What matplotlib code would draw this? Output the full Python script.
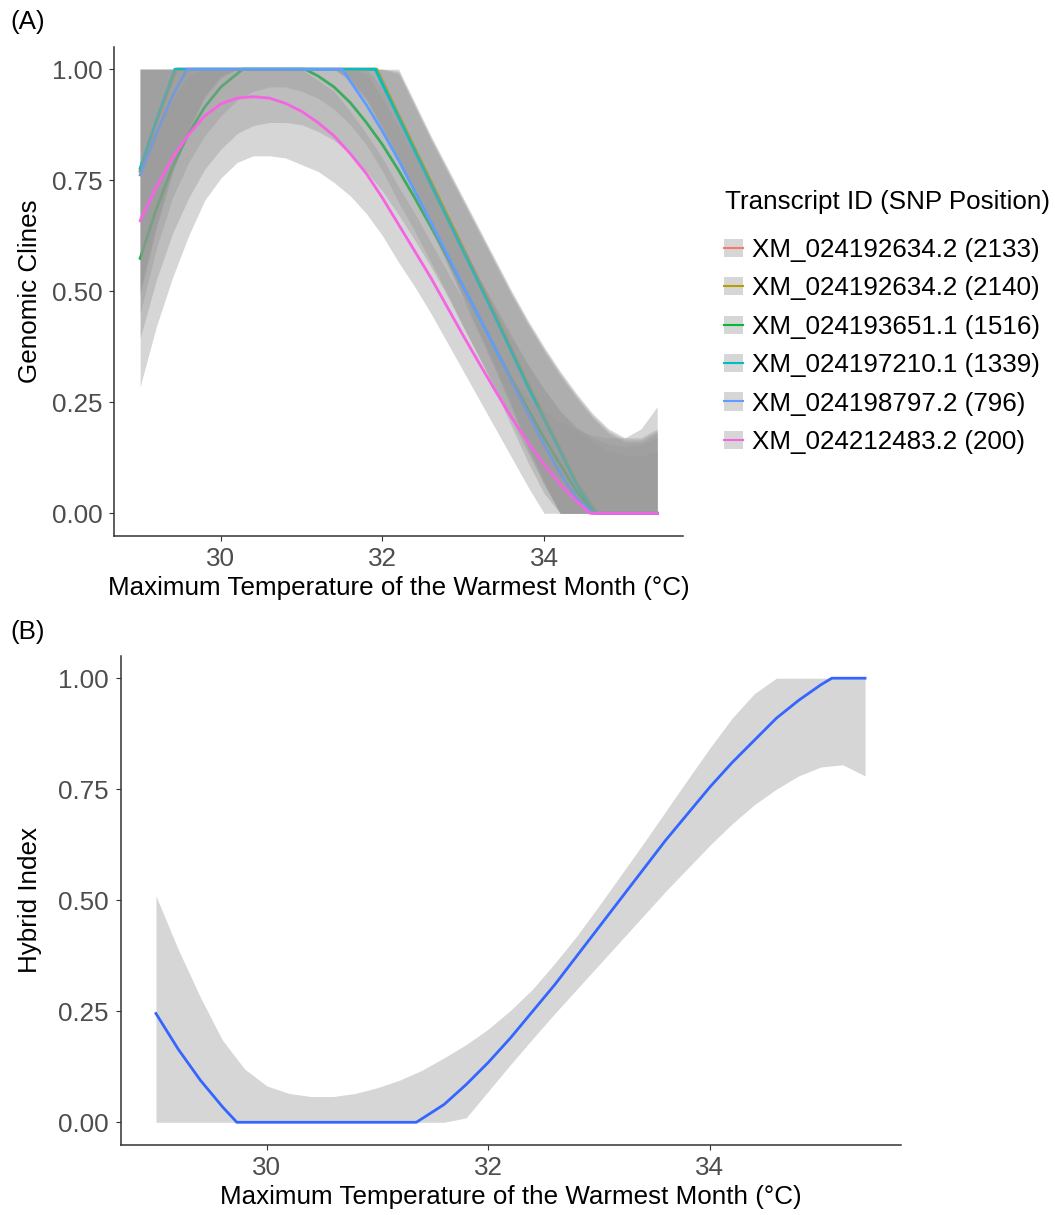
import matplotlib
matplotlib.use("Agg")
import matplotlib.pyplot as plt
from matplotlib.patches import Patch
from matplotlib.lines import Line2D
from matplotlib.legend_handler import HandlerTuple

plt.rcParams['font.family'] = ['Liberation Sans', 'DejaVu Sans']

FS = 18.7
TICK_COLOR = '#4D4D4D'
AXIS_COLOR = '#333333'
RIBBON = '#999999'

# ---------------- Panel A: genomic clines per SNP ----------------
snp_labels = ['XM_024192634.2 (2133)', 'XM_024192634.2 (2140)',
              'XM_024193651.1 (1516)', 'XM_024197210.1 (1339)',
              'XM_024198797.2 (796)', 'XM_024212483.2 (200)']
snp_colors = ['#F8766D', '#B79F00', '#00BA38', '#00BFC4', '#619CFF', '#F564E3']

# temperatures at which the confidence ribbons are given (both panels)
ribbon_temp = [29.0, 29.2, 29.4, 29.6, 29.8, 30.0, 30.2, 30.4, 30.6, 30.8, 31.0,
               31.2, 31.4, 31.6, 31.8, 32.0, 32.2, 32.4, 32.6, 32.8, 33.0, 33.2,
               33.4, 33.6, 33.8, 34.0, 34.2, 34.4, 34.6, 34.8, 35.0, 35.2, 35.4]

# SNP 2133
c2133_x = [29.0, 29.2, 29.45, 31.92, 32.2, 32.6, 33.0, 33.4, 33.8, 34.2, 34.4, 34.65, 35.4]
c2133_y = [0.772, 0.882, 1.0, 1.0, 0.895, 0.745, 0.595, 0.445, 0.29, 0.145, 0.07, 0.0, 0.0]
c2133_lo = [0.49, 0.64, 0.765, 0.86, 0.935, 0.98, 1, 1, 1, 1, 1, 1, 1, 0.975, 0.93,
            0.865, 0.795, 0.72, 0.645, 0.565, 0.485, 0.405, 0.325, 0.24, 0.15, 0.07,
            0, 0, 0, 0, 0, 0, 0]
c2133_hi = [1, 1, 1, 1, 1, 1, 1, 1, 1, 1, 1, 1, 1, 1, 1, 1, 0.995, 0.92, 0.845,
            0.775, 0.705, 0.635, 0.565, 0.495, 0.43, 0.37, 0.315, 0.265, 0.22, 0.185,
            0.165, 0.165, 0.185]

# SNP 2140
c2140_x = [29.0, 29.2, 29.45, 31.93, 32.2, 32.6, 33.0, 33.4, 33.8, 34.2, 34.4, 34.66, 35.4]
c2140_y = [0.770, 0.88, 1.0, 1.0, 0.897, 0.747, 0.597, 0.447, 0.292, 0.147, 0.072, 0.0, 0.0]
c2140_lo = [0.50, 0.645, 0.77, 0.865, 0.94, 0.985, 1, 1, 1, 1, 1, 1, 1, 0.98, 0.935,
            0.87, 0.80, 0.725, 0.65, 0.57, 0.49, 0.41, 0.33, 0.245, 0.155, 0.075,
            0, 0, 0, 0, 0, 0, 0]
c2140_hi = [1, 1, 1, 1, 1, 1, 1, 1, 1, 1, 1, 1, 1, 1, 1, 1, 1, 0.925, 0.85,
            0.78, 0.71, 0.64, 0.57, 0.50, 0.435, 0.375, 0.32, 0.27, 0.225, 0.19,
            0.17, 0.17, 0.19]

# SNP 1516
c1516_x = [29.0, 29.2, 29.4, 29.6, 29.8, 30.0, 30.27, 31.04, 31.2, 31.4, 31.6, 31.8,
           32.0, 32.2, 32.4, 32.6, 32.8, 33.0, 33.2, 33.4, 33.6, 33.8, 34.0, 34.2,
           34.4, 34.62, 35.4]
c1516_y = [0.574, 0.685, 0.78, 0.855, 0.915, 0.96, 1.0, 1.0, 0.985, 0.96, 0.925, 0.88,
           0.83, 0.772, 0.71, 0.645, 0.578, 0.51, 0.44, 0.37, 0.30, 0.235, 0.17, 0.11,
           0.05, 0.0, 0.0]
c1516_lo = [0.394, 0.525, 0.63, 0.71, 0.775, 0.82, 0.855, 0.873, 0.88, 0.88, 0.875,
            0.86, 0.84, 0.81, 0.77, 0.725, 0.672, 0.615, 0.555, 0.49, 0.42, 0.35,
            0.28, 0.21, 0.135, 0.065, 0, 0, 0, 0, 0, 0, 0]
c1516_hi = [0.754, 0.855, 0.93, 0.985, 1, 1, 1, 1, 1, 1, 1, 1, 1, 1, 0.99, 0.935,
            0.872, 0.805, 0.735, 0.665, 0.60, 0.53, 0.46, 0.395, 0.335, 0.28, 0.23,
            0.19, 0.16, 0.14, 0.13, 0.13, 0.14]

# SNP 1339
c1339_x = [29.0, 29.2, 29.43, 31.91, 32.2, 32.6, 33.0, 33.4, 33.8, 34.2, 34.4, 34.63, 35.4]
c1339_y = [0.777, 0.885, 1.0, 1.0, 0.89, 0.74, 0.59, 0.44, 0.285, 0.14, 0.065, 0.0, 0.0]
c1339_lo = [0.51, 0.655, 0.775, 0.87, 0.94, 0.985, 1, 1, 1, 1, 1, 1, 1, 0.975, 0.93,
            0.865, 0.79, 0.715, 0.64, 0.56, 0.48, 0.40, 0.32, 0.235, 0.145, 0.065,
            0, 0, 0, 0, 0, 0, 0]
c1339_hi = [1, 1, 1, 1, 1, 1, 1, 1, 1, 1, 1, 1, 1, 1, 1, 1, 0.99, 0.915, 0.84,
            0.77, 0.70, 0.63, 0.56, 0.49, 0.425, 0.365, 0.31, 0.26, 0.215, 0.18,
            0.16, 0.16, 0.18]

# SNP 796
c796_x = [29.0, 29.2, 29.4, 29.58, 31.5, 31.8, 32.0, 32.2, 32.4, 32.6, 32.8, 33.0,
          33.2, 33.4, 33.6, 33.8, 34.0, 34.2, 34.4, 34.6, 35.4]
c796_y = [0.762, 0.855, 0.94, 1.0, 1.0, 0.92, 0.86, 0.795, 0.725, 0.655, 0.583, 0.51,
          0.44, 0.37, 0.297, 0.225, 0.155, 0.09, 0.035, 0.0, 0.0]
c796_lo = [0.45, 0.595, 0.71, 0.79, 0.85, 0.895, 0.93, 0.95, 0.96, 0.96, 0.95, 0.935,
           0.91, 0.875, 0.83, 0.77, 0.70, 0.635, 0.565, 0.495, 0.42, 0.35, 0.275,
           0.195, 0.115, 0.045, 0, 0, 0, 0, 0, 0, 0]
c796_hi = [1, 1, 1, 1, 1, 1, 1, 1, 1, 1, 1, 1, 1, 1, 1, 0.96, 0.89, 0.815, 0.745,
           0.67, 0.60, 0.53, 0.465, 0.40, 0.335, 0.28, 0.23, 0.195, 0.17, 0.155,
           0.15, 0.155, 0.17]

# SNP 200
c200_x = [29.0, 29.2, 29.4, 29.6, 29.8, 30.0, 30.2, 30.4, 30.6, 30.8, 31.0, 31.2,
          31.4, 31.6, 31.8, 32.0, 32.2, 32.4, 32.6, 32.8, 33.0, 33.2, 33.4, 33.6,
          33.8, 34.0, 34.2, 34.4, 34.57, 35.4]
c200_y = [0.659, 0.735, 0.80, 0.853, 0.895, 0.922, 0.935, 0.938, 0.935, 0.923, 0.905,
          0.88, 0.85, 0.81, 0.765, 0.71, 0.65, 0.59, 0.53, 0.465, 0.40, 0.337, 0.275,
          0.215, 0.16, 0.11, 0.065, 0.028, 0.0, 0.0]
c200_lo = [0.285, 0.42, 0.53, 0.625, 0.705, 0.755, 0.79, 0.805, 0.805, 0.80, 0.785,
           0.77, 0.745, 0.715, 0.675, 0.625, 0.565, 0.51, 0.45, 0.385, 0.32, 0.255,
           0.19, 0.125, 0.06, 0.0, 0, 0, 0, 0, 0, 0, 0]
c200_hi = [1, 1, 1, 1, 1, 1, 1, 1, 1, 1, 1, 0.975, 0.95, 0.905, 0.855, 0.80, 0.735,
           0.675, 0.61, 0.545, 0.48, 0.42, 0.36, 0.305, 0.26, 0.23, 0.205, 0.19,
           0.175, 0.17, 0.17, 0.19, 0.24]

clines = [
    (c2133_x, c2133_y, c2133_lo, c2133_hi),
    (c2140_x, c2140_y, c2140_lo, c2140_hi),
    (c1516_x, c1516_y, c1516_lo, c1516_hi),
    (c1339_x, c1339_y, c1339_lo, c1339_hi),
    (c796_x, c796_y, c796_lo, c796_hi),
    (c200_x, c200_y, c200_lo, c200_hi),
]

# ---------------- Panel B: hybrid index ----------------
hyb_x = [29.0, 29.2, 29.4, 29.6, 29.73, 31.35, 31.6, 31.8, 32.0, 32.2, 32.4, 32.6, 32.8,
         33.0, 33.2, 33.4, 33.6, 33.8, 34.0, 34.2, 34.4, 34.6, 34.8, 35.0, 35.1, 35.4]
hyb_y = [0.245, 0.165, 0.095, 0.035, 0.0, 0.0, 0.04, 0.085, 0.135, 0.19, 0.25, 0.31, 0.375,
         0.44, 0.505, 0.57, 0.635, 0.695, 0.755, 0.81, 0.86, 0.91, 0.95, 0.985, 1.0, 1.0]
hyb_lo = [0, 0, 0, 0, 0, 0, 0, 0, 0, 0, 0, 0, 0,
          0, 0.01, 0.07, 0.13, 0.188, 0.245, 0.30, 0.355, 0.41, 0.465, 0.52, 0.572, 0.624,
          0.672, 0.715, 0.75, 0.78, 0.80, 0.805, 0.78]
hyb_hi = [0.51, 0.39, 0.282, 0.185, 0.12, 0.082, 0.065, 0.058, 0.058, 0.065, 0.078, 0.095, 0.117,
          0.145, 0.175, 0.21, 0.252, 0.30, 0.358, 0.42, 0.488, 0.558, 0.628, 0.70, 0.772, 0.843,
          0.91, 0.965, 1.0, 1.0, 1.0, 1.0, 1.0]

x_ticks = [30, 32, 34]
y_ticks = [0.0, 0.25, 0.5, 0.75, 1.0]
y_tick_labels = ['0.00', '0.25', '0.50', '0.75', '1.00']
x_title = 'Maximum Temperature of the Warmest Month (°C)'

W, H = 1055, 1215
fig = plt.figure(figsize=(W / 100, H / 100), dpi=100)
axA = fig.add_axes([114.3 / W, 1 - 535.5 / H, (683 - 114.3) / W, 488.5 / H])
axB = fig.add_axes([120.5 / W, 1 - 1144.5 / H, 780 / W, 488.5 / H])


def style(ax):
    for side in ('top', 'right'):
        ax.spines[side].set_visible(False)
    for side in ('left', 'bottom'):
        ax.spines[side].set_color(AXIS_COLOR)
        ax.spines[side].set_linewidth(1.1)
    ax.set_xlim(28.68, 35.72)
    ax.set_ylim(-0.05, 1.05)
    ax.set_xticks(x_ticks)
    ax.set_xticklabels([str(t) for t in x_ticks])
    ax.set_yticks(y_ticks)
    ax.set_yticklabels(y_tick_labels)
    ax.tick_params(length=3.8, width=0.8, color=AXIS_COLOR, labelsize=FS,
                   labelcolor=TICK_COLOR, pad=4.5)
    ax.set_xlabel(x_title, fontsize=FS, color='black')


style(axA)
style(axB)

# Panel A: each SNP draws its ribbon then its line, so later ribbons veil earlier lines
z = 2
for (lx, ly, lo, hi), col in zip(clines, snp_colors):
    axA.fill_between(ribbon_temp, lo, hi, color=RIBBON, alpha=0.4, linewidth=0, zorder=z)
    axA.plot(lx, ly, color=col, linewidth=2.0, zorder=z + 1, solid_joinstyle='round')
    z += 2

axA.set_ylabel('Genomic Clines', fontsize=FS)
axA.yaxis.set_label_coords((30 - 114.3) / 568.7, 0.5)
axA.xaxis.set_label_coords(0.5, (535.5 - 588) / 488.5)
axA.xaxis.label.set_va('center')
axA.yaxis.label.set_va('center')

# legend: title as its own text, keys are a grey ribbon swatch with the line colour
fig.text(725 / W, 1 - 202 / H, 'Transcript ID (SNP Position)', fontsize=FS,
         ha='left', va='center')
handles = [(Patch(facecolor=RIBBON, alpha=0.4, edgecolor='none'),
            Line2D([], [], color=c, linewidth=1.5)) for c in snp_colors]
fig.legend(handles, snp_labels, handler_map={tuple: HandlerTuple(ndivide=1)},
           loc='upper left', bbox_to_anchor=(724.3 / W, 1 - 238 / H), frameon=False,
           fontsize=FS, handlelength=0.72, handleheight=0.7,
           handletextpad=0.36, labelspacing=0.554, borderpad=0, borderaxespad=0)

# Panel B
axB.fill_between(ribbon_temp, hyb_lo, hyb_hi, color=RIBBON, alpha=0.4, linewidth=0, zorder=2)
axB.plot(hyb_x, hyb_y, color='#3366FF', linewidth=2.0, zorder=3)
axB.set_ylabel('Hybrid Index', fontsize=FS)
axB.yaxis.set_label_coords((30 - 120.5) / 780, 0.5)
axB.xaxis.set_label_coords(0.5, (1144.5 - 1197) / 488.5)
axB.xaxis.label.set_va('center')
axB.yaxis.label.set_va('center')

fig.text(10 / W, 1 - 22 / H, '(A)', fontsize=FS, ha='left', va='center')
fig.text(10 / W, 1 - 632 / H, '(B)', fontsize=FS, ha='left', va='center')

fig.savefig('out.png', dpi=100, facecolor='white')
